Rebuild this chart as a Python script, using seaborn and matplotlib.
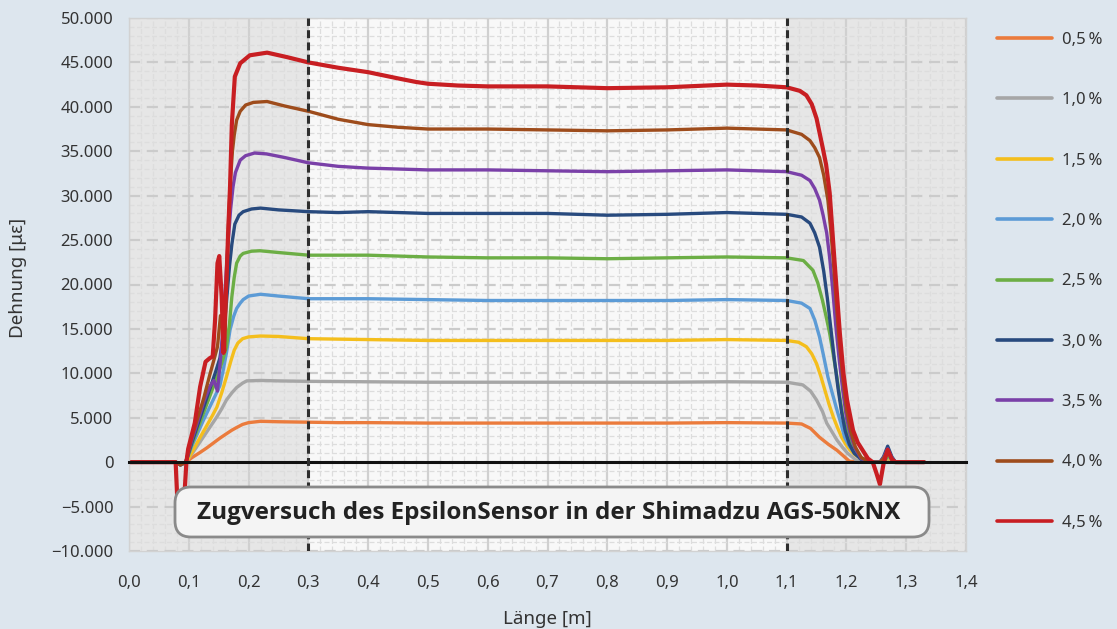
import matplotlib
matplotlib.use("Agg")
import matplotlib.pyplot as plt
import matplotlib.transforms as mtransforms
from matplotlib.patches import FancyBboxPatch
from matplotlib.ticker import FuncFormatter, MultipleLocator
import pandas as pd
import seaborn as sns

# ---------------------------------------------------------------------------
# Messdaten: Dehnung [µε] entlang der Faser, je Laststufe (Länge [m], Dehnung)
# ---------------------------------------------------------------------------
stufen = ["0,5\u2009%", "1,0\u2009%", "1,5\u2009%", "2,0\u2009%", "2,5\u2009%",
          "3,0\u2009%", "3,5\u2009%", "4,0\u2009%", "4,5\u2009%"]

farben = ["#EB7B3C", "#A6A6A6", "#F4BE1C", "#5C9BD6", "#6CAE45",
          "#284A7E", "#7A40A8", "#9E4C1C", "#C81E22"]

dehnung_05 = [(0.000, 0), (0.078, 0), (0.086, -300), (0.095, 0), (0.105, 500),
              (0.119, 1100), (0.130, 1600), (0.140, 2100), (0.152, 2700),
              (0.163, 3200), (0.172, 3600), (0.180, 3900), (0.190, 4250),
              (0.200, 4450), (0.220, 4600), (0.250, 4550), (0.300, 4500),
              (0.350, 4450), (0.400, 4450), (0.500, 4400), (0.600, 4400),
              (0.700, 4400), (0.800, 4400), (0.900, 4400), (1.000, 4450),
              (1.100, 4400), (1.125, 4300), (1.140, 3800), (1.155, 2800),
              (1.170, 2000), (1.184, 1350), (1.195, 700), (1.205, 100),
              (1.230, 0), (1.250, 0), (1.262, 0), (1.270, 300), (1.280, 0),
              (1.330, 0)]

dehnung_10 = [(0.000, 0), (0.078, 0), (0.086, -300), (0.095, 0), (0.105, 900),
              (0.115, 1900), (0.124, 2800), (0.135, 3900), (0.147, 5100),
              (0.155, 6000), (0.163, 7000), (0.172, 7800), (0.180, 8400),
              (0.190, 8900), (0.197, 9150), (0.220, 9200), (0.250, 9150),
              (0.300, 9100), (0.400, 9050), (0.500, 9000), (0.600, 9000),
              (0.700, 9000), (0.800, 9000), (0.900, 9000), (1.000, 9050),
              (1.100, 9000), (1.127, 8700), (1.140, 8000), (1.150, 7000),
              (1.160, 5700), (1.167, 4400), (1.176, 3400), (1.184, 2500),
              (1.193, 1700), (1.202, 1000), (1.217, 200), (1.235, 0),
              (1.262, 0), (1.270, 400), (1.280, 0), (1.330, 0)]

dehnung_15 = [(0.000, 0), (0.078, 0), (0.086, -300), (0.095, 0), (0.102, 700),
              (0.110, 1700), (0.119, 2800), (0.130, 4100), (0.140, 5300),
              (0.147, 6200), (0.155, 7800), (0.163, 9600), (0.170, 11300),
              (0.176, 12600), (0.182, 13400), (0.190, 13900), (0.200, 14100),
              (0.220, 14200), (0.250, 14150), (0.300, 13900), (0.400, 13800),
              (0.500, 13700), (0.600, 13700), (0.700, 13700), (0.800, 13700),
              (0.900, 13700), (1.000, 13800), (1.100, 13700), (1.120, 13500),
              (1.133, 13000), (1.142, 12200), (1.150, 11100), (1.157, 9700),
              (1.164, 8100), (1.171, 6500), (1.178, 5100), (1.185, 3900),
              (1.192, 2800), (1.199, 2000), (1.206, 1350), (1.215, 800),
              (1.227, 300), (1.240, 0), (1.262, 0), (1.270, 500), (1.280, 0),
              (1.330, 0)]

dehnung_20 = [(0.000, 0), (0.078, 0), (0.086, -300), (0.095, 0), (0.105, 1800),
              (0.115, 3300), (0.125, 4800), (0.135, 6200), (0.145, 7600),
              (0.152, 8600), (0.158, 10500), (0.163, 12300), (0.169, 14900),
              (0.175, 16400), (0.180, 17300), (0.186, 17900), (0.191, 18300),
              (0.200, 18700), (0.220, 18900), (0.250, 18700), (0.300, 18400),
              (0.400, 18400), (0.500, 18300), (0.600, 18200), (0.700, 18200),
              (0.800, 18200), (0.900, 18200), (1.000, 18300), (1.100, 18200),
              (1.125, 17900), (1.139, 17300), (1.147, 16000), (1.155, 14100),
              (1.162, 11900), (1.169, 9600), (1.177, 7600), (1.184, 5900),
              (1.191, 4300), (1.197, 2800), (1.205, 1800), (1.214, 1000),
              (1.225, 400), (1.240, 0), (1.262, 0), (1.270, 700), (1.280, 0),
              (1.330, 0)]

dehnung_25 = [(0.000, 0), (0.078, 0), (0.086, -300), (0.095, 0), (0.105, 2000),
              (0.115, 3800), (0.125, 5600), (0.135, 7400), (0.145, 9200),
              (0.152, 10500), (0.158, 11800), (0.163, 13000), (0.168, 15500),
              (0.172, 18600), (0.176, 20800), (0.180, 22400), (0.186, 23200),
              (0.191, 23500), (0.205, 23750), (0.219, 23800), (0.250, 23600),
              (0.300, 23300), (0.400, 23300), (0.500, 23100), (0.600, 23000),
              (0.700, 23000), (0.800, 22900), (0.900, 23000), (1.000, 23100),
              (1.100, 23000), (1.128, 22700), (1.144, 21600), (1.152, 20200),
              (1.160, 18200), (1.166, 16400), (1.172, 14500), (1.178, 12100),
              (1.184, 9600), (1.189, 7300), (1.194, 5100), (1.201, 3400),
              (1.209, 2100), (1.222, 600), (1.240, 0), (1.262, 0),
              (1.270, 800), (1.280, 0), (1.330, 0)]

dehnung_30 = [(0.000, 0), (0.078, 0), (0.086, -300), (0.095, 0), (0.105, 2200),
              (0.115, 4200), (0.125, 6200), (0.135, 8200), (0.145, 10200),
              (0.152, 11700), (0.158, 14500), (0.163, 18000), (0.168, 22000),
              (0.172, 24500), (0.177, 26800), (0.184, 27800), (0.191, 28200),
              (0.205, 28500), (0.220, 28600), (0.250, 28400), (0.300, 28200),
              (0.350, 28100), (0.400, 28200), (0.500, 28000), (0.600, 28000),
              (0.700, 28000), (0.800, 27800), (0.900, 27900), (1.000, 28100),
              (1.100, 27900), (1.125, 27600), (1.139, 26900), (1.147, 25800),
              (1.155, 24200), (1.162, 21500), (1.168, 18500), (1.174, 15000),
              (1.180, 11500), (1.186, 8300), (1.192, 5600), (1.198, 3500),
              (1.205, 2000), (1.213, 1000), (1.225, 300), (1.240, 0),
              (1.256, 0), (1.262, 600), (1.269, 1800), (1.276, 600),
              (1.282, 0), (1.330, 0)]

dehnung_35 = [(0.000, 0), (0.078, 0), (0.086, -300), (0.095, 0), (0.105, 2500),
              (0.115, 4600), (0.125, 6800), (0.135, 8500), (0.142, 9200),
              (0.148, 8000), (0.155, 13000), (0.160, 18500), (0.165, 24000),
              (0.170, 28500), (0.174, 31000), (0.178, 32600), (0.186, 34000),
              (0.195, 34500), (0.210, 34800), (0.230, 34700), (0.260, 34300),
              (0.300, 33700), (0.350, 33300), (0.400, 33100), (0.500, 32900),
              (0.600, 32900), (0.700, 32800), (0.800, 32700), (0.900, 32800),
              (1.000, 32900), (1.100, 32700), (1.125, 32300), (1.139, 31700),
              (1.147, 30800), (1.155, 29500), (1.161, 27800), (1.167, 25800),
              (1.172, 23000), (1.177, 19500), (1.182, 15500), (1.188, 11500),
              (1.194, 8000), (1.200, 5000), (1.207, 3000), (1.215, 1500),
              (1.225, 400), (1.240, 0), (1.256, 0), (1.262, 500),
              (1.269, 1500), (1.276, 500), (1.282, 0), (1.330, 0)]

dehnung_40 = [(0.000, 0), (0.078, 0), (0.086, -300), (0.095, 0), (0.105, 2800),
              (0.115, 5000), (0.125, 7200), (0.135, 9800), (0.142, 11500),
              (0.148, 13000), (0.153, 16500), (0.157, 15000), (0.160, 12500),
              (0.164, 22000), (0.167, 28000), (0.170, 32000), (0.173, 35000),
              (0.176, 36800), (0.180, 38500), (0.186, 39500), (0.195, 40200),
              (0.208, 40500), (0.231, 40600), (0.260, 40100), (0.300, 39500),
              (0.350, 38600), (0.400, 38000), (0.450, 37700), (0.500, 37500),
              (0.600, 37500), (0.700, 37400), (0.800, 37300), (0.900, 37400),
              (1.000, 37600), (1.100, 37400), (1.125, 36900), (1.139, 36200),
              (1.147, 35400), (1.155, 34300), (1.162, 32300), (1.169, 29500),
              (1.174, 26000), (1.178, 22700), (1.183, 18000), (1.188, 13500),
              (1.194, 9500), (1.200, 6000), (1.207, 3500), (1.215, 1700),
              (1.225, 500), (1.240, 0), (1.256, 0), (1.262, 400),
              (1.269, 1300), (1.276, 400), (1.282, 0), (1.330, 0)]

dehnung_45 = [(0.000, 0), (0.078, 0), (0.081, -4500), (0.092, -4500),
              (0.096, 0), (0.099, 1500), (0.110, 4400), (0.119, 8500),
              (0.128, 11300), (0.135, 11700), (0.140, 11900), (0.144, 16000),
              (0.148, 22400), (0.151, 23200), (0.155, 18600), (0.158, 12300),
              (0.163, 20500), (0.166, 26100), (0.169, 31000), (0.172, 38000),
              (0.177, 43400), (0.186, 44900), (0.202, 45800), (0.231, 46100),
              (0.264, 45600), (0.300, 45000), (0.350, 44400), (0.400, 43900),
              (0.450, 43200), (0.480, 42800), (0.500, 42600), (0.550, 42400),
              (0.600, 42300), (0.700, 42300), (0.800, 42100), (0.900, 42200),
              (1.000, 42500), (1.050, 42400), (1.100, 42200), (1.122, 41800),
              (1.133, 41300), (1.142, 40300), (1.150, 38700), (1.160, 35500),
              (1.166, 33500), (1.172, 30300), (1.180, 22700), (1.189, 14500),
              (1.195, 10000), (1.201, 7000), (1.211, 3600), (1.219, 2200),
              (1.227, 1350), (1.236, 400), (1.244, 0), (1.250, -1200),
              (1.256, -2500), (1.262, -200), (1.269, 1400), (1.276, 300),
              (1.282, 0), (1.330, 0)]

messreihen = [dehnung_05, dehnung_10, dehnung_15, dehnung_20, dehnung_25,
              dehnung_30, dehnung_35, dehnung_40, dehnung_45]

x_ticks = [0.0, 0.1, 0.2, 0.3, 0.4, 0.5, 0.6, 0.7, 0.8, 0.9, 1.0, 1.1, 1.2, 1.3, 1.4]
y_ticks = [-10000, -5000, 0, 5000, 10000, 15000, 20000, 25000,
           30000, 35000, 40000, 45000, 50000]
klemmbereich = [0.3, 1.1]
titel = "Zugversuch des EpsilonSensor in der Shimadzu AGS-50kNX"

# ---------------------------------------------------------------------------
frames = []
for name, punkte in zip(stufen, messreihen):
    frames.append(pd.DataFrame({"Länge": [p[0] for p in punkte],
                                "Dehnung": [p[1] for p in punkte],
                                "Stufe": name}))
df = pd.concat(frames, ignore_index=True)

BG = "#DDE6EE"
TXT = "#333333"
W, H = 1117, 629
FS = 12

sns.set_theme(style="white")
plt.rcParams["font.family"] = ["Noto Sans", "DejaVu Sans"]

fig = plt.figure(figsize=(W / 100, H / 100), dpi=100, facecolor=BG)
ax = fig.add_axes([129 / W, 1 - 551 / H, (966 - 129) / W, (551 - 18) / H])
ax.set_facecolor("#F8F8F8")

# shaded clamping zones at both ends
ax.axvspan(0.0, klemmbereich[0], color="#E0E0E0", alpha=0.75, lw=0, zorder=0.2)
ax.axvspan(klemmbereich[1], 1.4, color="#E0E0E0", alpha=0.75, lw=0, zorder=0.2)

sns.lineplot(data=df, x="Länge", y="Dehnung", hue="Stufe", hue_order=stufen,
             palette=dict(zip(stufen, farben)), estimator=None, sort=False,
             linewidth=2.4, ax=ax, zorder=2)
for line in ax.get_lines():
    if str(line.get_color()).lower() == farben[-1].lower():
        line.set_linewidth(3.0)

for xv in klemmbereich:
    ax.axvline(xv, color="#2E2E2E", lw=2.2, ls=(0, (2.6, 1.4)), zorder=3)

ax.set_xlim(0, 1.4)
ax.set_ylim(-10000, 50000)
ax.set_xticks(x_ticks)
ax.set_yticks(y_ticks)
ax.xaxis.set_minor_locator(MultipleLocator(0.02))
ax.yaxis.set_minor_locator(MultipleLocator(1000))
ax.set_axisbelow(True)
ax.grid(which="minor", color="#DDDDDD", lw=0.9, ls=(0, (4, 2)))
ax.xaxis.grid(True, which="major", color="#D0D0D0", lw=1.6, ls="-")
ax.yaxis.grid(True, which="major", color="#CBCBCB", lw=1.6, ls=(0, (5, 3)))
ax.tick_params(which="minor", length=0)

ax.yaxis.set_major_formatter(FuncFormatter(
    lambda v, p: ("\u2212" if v < 0 else "") + f"{abs(int(round(v))):,}".replace(",", ".")))
ax.tick_params(axis="y", which="major", direction="out", length=5.8, width=1.2,
               color="#555555", pad=5.5, labelsize=FS, labelcolor=TXT)

# zero line with ticks, labels placed along the lower frame edge
ax.spines["bottom"].set_position(("data", 0))
ax.spines["bottom"].set_color("#111111")
ax.spines["bottom"].set_linewidth(2.2)
ax.spines["bottom"].set_zorder(2.5)
ax.tick_params(axis="x", which="major", direction="out", length=4, width=1.8,
               color="#111111", labelbottom=False)
for side in ("left", "top", "right"):
    ax.spines[side].set_color("#D2D2D2")
    ax.spines[side].set_linewidth(1.0)

sec = ax.secondary_xaxis("bottom")
sec.set_xticks(x_ticks)
sec.set_xticklabels([f"{v:.1f}".replace(".", ",") for v in x_ticks])
sec.tick_params(length=0, pad=17, labelsize=FS, labelcolor=TXT)
sec.spines["bottom"].set_color("#D2D2D2")
sec.spines["bottom"].set_linewidth(1.0)

ax.set_xlabel("")
ax.set_ylabel("")
fig.text(18 / W, 1 - 278 / H, "Dehnung [\u03bc\u03b5]", rotation=90,
         ha="center", va="center", fontsize=13.5, color=TXT)
fig.text(547 / W, 1 - 619 / H, "Länge [m]", ha="center", va="center",
         fontsize=13.5, color=TXT)

sns.move_legend(ax, loc="upper left", bbox_to_anchor=(997 / W, 1 - 32 / H),
                bbox_transform=fig.transFigure, frameon=False, title=None,
                handlelength=3.3, handletextpad=0.6, labelspacing=2.66,
                borderpad=0, borderaxespad=0, fontsize=FS)
for t in ax.get_legend().get_texts():
    t.set_color(TXT)
for h in ax.get_legend().get_lines():
    h.set_linewidth(2.6)

# caption box
box = FancyBboxPatch((175, H - 537), 754, 50,
                     boxstyle="round,pad=0,rounding_size=16",
                     transform=mtransforms.IdentityTransform(),
                     facecolor="#F4F4F4", edgecolor="#8A8A8A", lw=2.0, zorder=5)
fig.add_artist(box)
fig.text(549 / W, 1 - 519 / H, titel, ha="center", va="baseline",
         fontsize=17.5, fontweight="bold", family=["Open Sans", "Roboto", "DejaVu Sans"],
         color="#222222", zorder=6)

fig.savefig("out.png", dpi=100, facecolor=BG)
